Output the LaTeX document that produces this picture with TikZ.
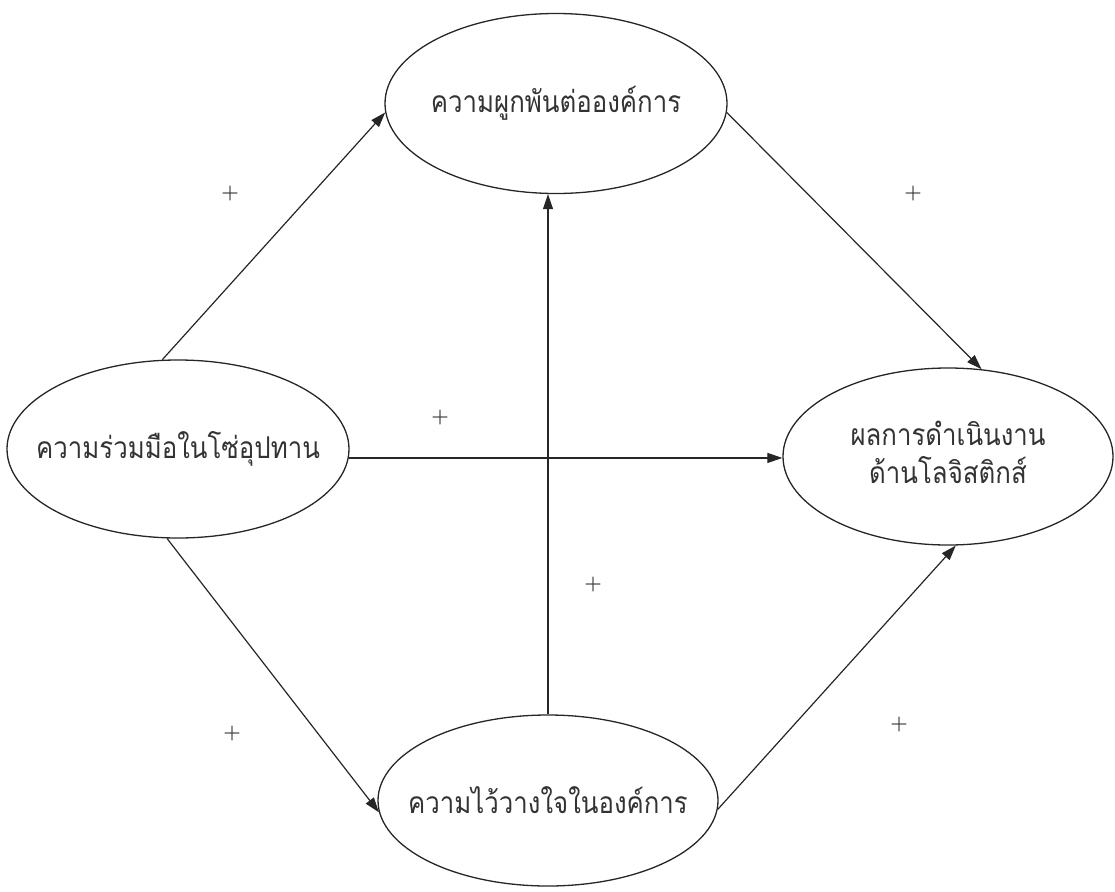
\documentclass[tikz,border=0pt]{standalone}
\usepackage{fontspec}
\newfontfamily\thaifont[Script=Thai,FakeStretch=0.86]{Loma}
\usetikzlibrary{shapes.geometric,arrows.meta}
\tikzset{
  construct/.style={draw=black!85, line width=1.3pt, ellipse, inner sep=0pt,
    font=\thaifont\fontsize{30}{40}\selectfont, text=black!80},
  link/.style={draw=black!85, line width=1.2pt, -{Triangle[length=15pt,width=10pt]}},
  sign/.style={font=\bfseries\fontsize{20}{20}\selectfont, text=black!80, inner sep=0pt}
}
\begin{document}
\begin{tikzpicture}[x=1pt,y=-1pt]
\useasboundingbox (0,0) rectangle (1115,891);
\node[construct, minimum width=342pt, minimum height=180pt] (T) at (556,103.5) {\makebox[0pt]{\raisebox{-3pt}{ความผูกพันต่อองค์การ}}};
\node[construct, minimum width=342pt, minimum height=178pt] (L) at (178,449) {\makebox[0pt]{ความร่วมมือในโซ่อุปทาน}};
\node[construct, minimum width=330pt, minimum height=177pt] (R) at (948,456.5) {\makebox[0pt]{\raisebox{-4pt}{\begin{tabular}{@{}c@{}}ผลการดำเนินงาน\\[-2pt]ด้านโลจิสติกส์\end{tabular}}}};
\node[construct, minimum width=340pt, minimum height=171pt] (B) at (548,800.5) {\makebox[0pt]{\raisebox{-5pt}{ความไว้วางใจในองค์การ}}};
\draw[link] (L.100) -- (T.183);
\draw[link] (T.-3) -- (R.69);
\draw[link] (L.-3.4) -- (L.-3.4 -| R.west);
\draw[link] (B.north) -- (B.north |- T.south);
\draw[link] (L.-97) -- (B.184);
\draw[link] (B.-3.2) -- (R.-85.6);
\node[sign] (p1) at (230,194) {+};
\node[sign] (p2) at (913,194) {+};
\node[sign] (p3) at (440,418) {+};
\node[sign] (p4) at (593,585) {+};
\node[sign] (p5) at (232,733) {+};
\node[sign] (p6) at (899,724) {+};
\end{tikzpicture}
\end{document}
